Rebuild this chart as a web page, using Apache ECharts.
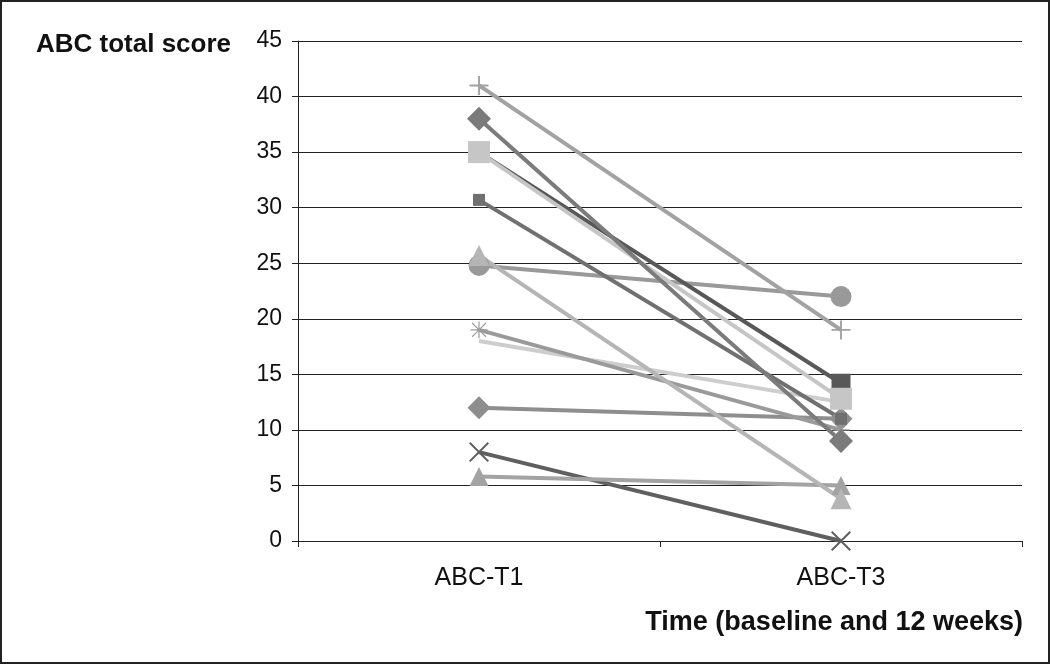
<!DOCTYPE html>
<html>
<head>
<meta charset="utf-8">
<script src="https://cdn.jsdelivr.net/npm/echarts@6/dist/echarts.min.js"></script>
<style>
html,body{margin:0;padding:0;background:#fff;}
#chart{width:1050px;height:664px;}
</style>
</head>
<body>
<div id="chart"></div>
<script>
const categories = ['ABC-T1', 'ABC-T3'];
const yMin = 0, yMax = 45, yStep = 5;
const yTitle = 'ABC total score';
const xTitle = 'Time (baseline and 12 weeks)';

// each list: [baseline, 12 weeks]
const plusScores = [41, 19];
const diamondHighScores = [38, 9];
const darkSquareScores = [35, 14.2];
const lightSquareScores = [35, 12.8];
const smallSquareScores = [30.7, 11];
const triangleHighScores = [25.7, 3.8];
const circleScores = [24.8, 22];
const starScores = [19, 10];
const plainScores = [18, 12.5];
const diamondLowScores = [12, 11];
const crossScores = [8, 0];
const triangleLowScores = [5.8, 5];

const PLUS = 'path://M9,0H11V9H20V11H11V20H9V11H0V9H9Z';
const CROSS = 'path://M1.4,0L10,8.6L18.6,0L20,1.4L11.4,10L20,18.6L18.6,20L10,11.4L1.4,20L0,18.6L8.6,10L0,1.4Z';
const STAR = 'path://M9.3,0H10.7V8.4L17.6,1.4L18.6,2.4L11.6,9.3H20V10.7H11.6L18.6,17.6L17.6,18.6L10.7,11.6V20H9.3V11.6L2.4,18.6L1.4,17.6L8.4,10.7H0V9.3H8.4L1.4,2.4L2.4,1.4L9.3,8.4Z';

function mk(name, data, color, symbol, size) {
  return {
    name: name, type: 'line', data: data,
    symbol: symbol, symbolSize: size,
    lineStyle: {color: color, width: 4},
    itemStyle: {color: color, borderWidth: 0},
    emphasis: {disabled: true},
    animation: false
  };
}

const chart = echarts.init(document.getElementById('chart'));
chart.setOption({
  animation: false,
  backgroundColor: '#fff',
  title: [
    {text: yTitle, left: 31, top: 27, textStyle: {fontFamily: 'Liberation Sans', fontWeight: 'bold', fontSize: 26, color: '#111'}},
    {text: xTitle, right: 22, top: 604, textStyle: {fontFamily: 'Liberation Sans', fontWeight: 'bold', fontSize: 27, color: '#111'}}
  ],
  graphic: [{type: 'rect', shape: {x: 1, y: 1, width: 1048, height: 662}, style: {fill: 'none', stroke: '#222', lineWidth: 2}, silent: true}],
  grid: {left: 298, right: 28, top: 41, bottom: 123},
  xAxis: {
    type: 'category', data: categories, boundaryGap: true,
    axisLine: {lineStyle: {color: '#222', width: 1}},
    axisTick: {show: true, length: 6, lineStyle: {color: '#222'}},
    axisLabel: {fontFamily: 'Liberation Sans', fontSize: 25, color: '#111', margin: 25},
    splitLine: {show: false}
  },
  yAxis: {
    type: 'value', min: yMin, max: yMax, interval: yStep,
    axisLine: {show: true, lineStyle: {color: '#222', width: 1}},
    axisTick: {show: true, length: 6, lineStyle: {color: '#222'}},
    axisLabel: {fontFamily: 'Liberation Sans', fontSize: 23, color: '#111', margin: 16},
    splitLine: {show: true, lineStyle: {color: '#222', width: 1}}
  },
  series: [
    mk('cross', crossScores, '#5f5f5f', CROSS, 20),
    mk('triangleLow', triangleLowScores, '#a3a3a3', 'triangle', 19),
    mk('diamondLow', diamondLowScores, '#8e8e8e', 'diamond', 23),
    mk('plain', plainScores, '#cdcdcd', 'none', 0),
    mk('star', starScores, '#9a9a9a', STAR, 17),
    mk('circle', circleScores, '#999999', 'circle', 21),
    mk('triangleHigh', triangleHighScores, '#b5b5b5', 'triangle', 21),
    mk('smallSquare', smallSquareScores, '#707070', 'rect', 12),
    mk('darkSquare', darkSquareScores, '#585858', 'rect', 19),
    mk('lightSquare', lightSquareScores, '#c6c6c6', 'rect', 22),
    mk('diamondHigh', diamondHighScores, '#7b7b7b', 'diamond', 24),
    mk('plus', plusScores, '#a2a2a2', PLUS, 19)
  ]
});
</script>
</body>
</html>
